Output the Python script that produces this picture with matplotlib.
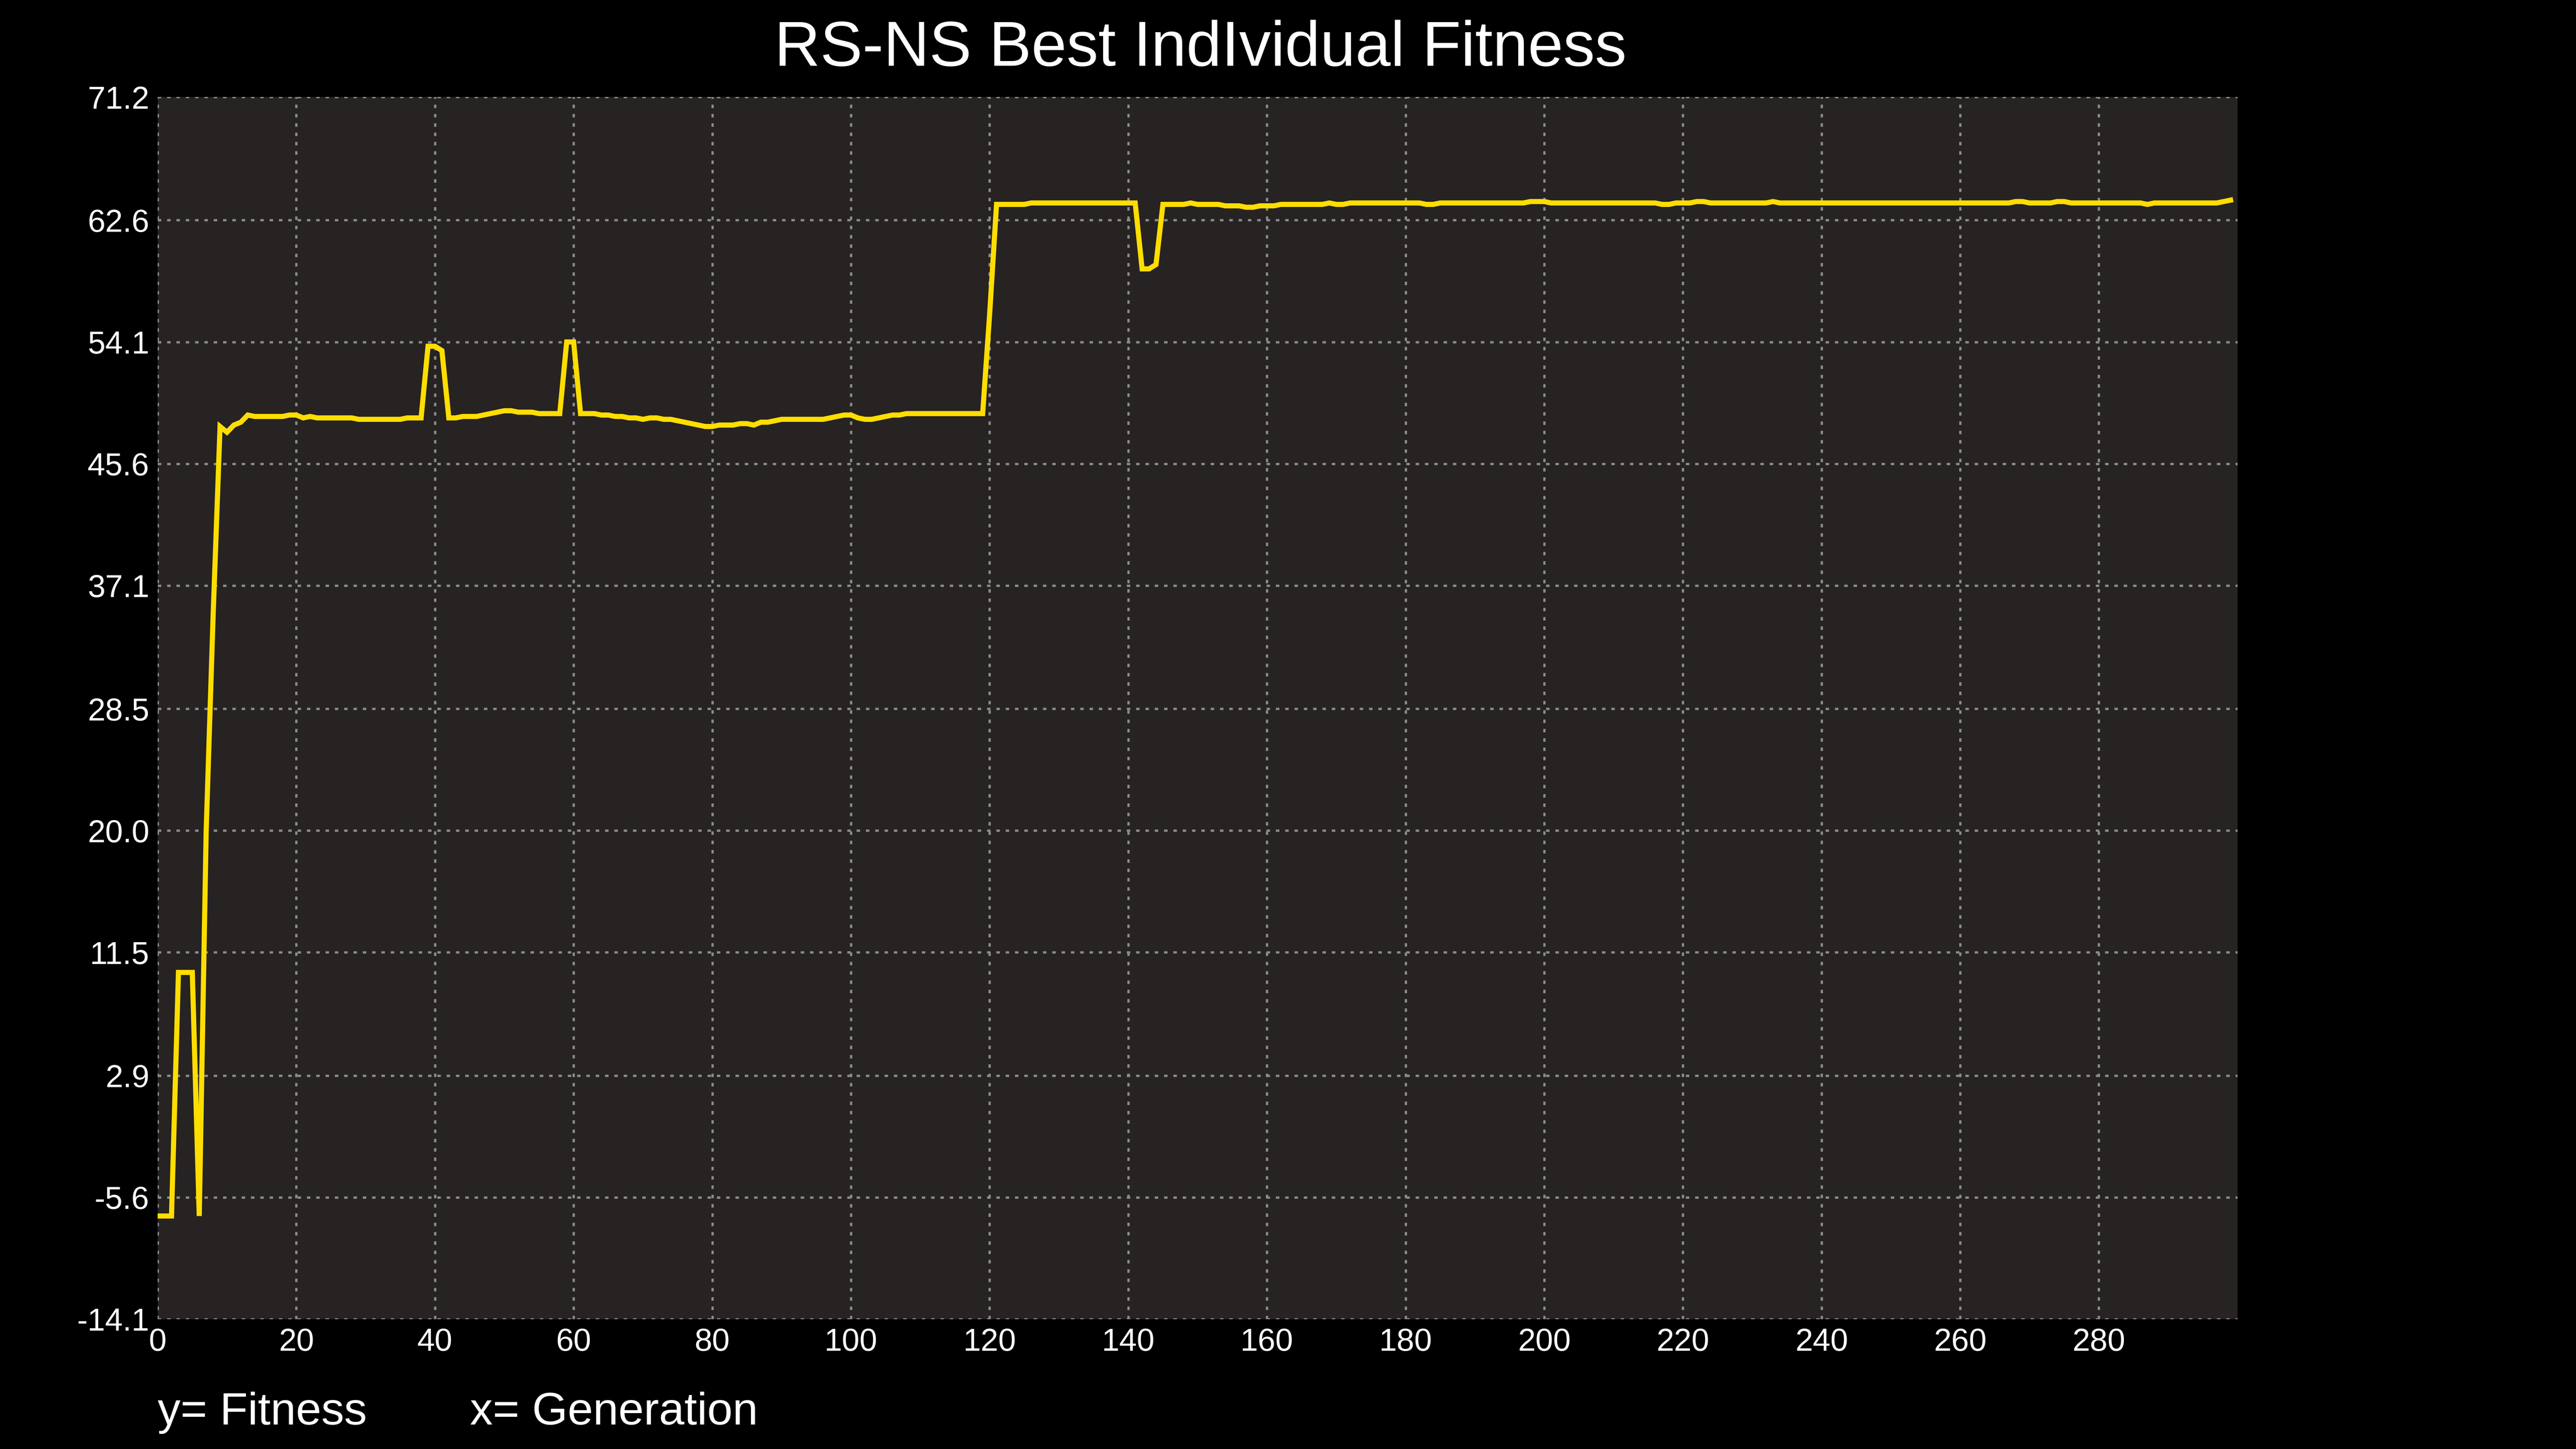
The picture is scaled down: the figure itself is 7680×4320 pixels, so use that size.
import matplotlib
matplotlib.use("Agg")
import matplotlib.pyplot as plt

title = "RS-NS Best IndIvidual Fitness"
y_ticks = [-14.1, -5.6, 2.9, 11.5, 20.0, 28.5, 37.1, 45.6, 54.1, 62.6, 71.2]
x_ticks = list(range(0, 300, 20))

fitness = [
    -6.9, -6.9, -6.9, 10.1, 10.1, 10.1, -6.9, 20.0, 35.0, 48.2,
    47.8, 48.3, 48.5, 49.0, 48.9, 48.9, 48.9, 48.9, 48.9, 49.0,
    49.0, 48.8, 48.9, 48.8, 48.8, 48.8, 48.8, 48.8, 48.8, 48.7,
    48.7, 48.7, 48.7, 48.7, 48.7, 48.7, 48.8, 48.8, 48.8, 53.8,
    53.8, 53.5, 48.8, 48.8, 48.9, 48.9, 48.9, 49.0, 49.1, 49.2,
    49.3, 49.3, 49.2, 49.2, 49.2, 49.1, 49.1, 49.1, 49.1, 54.1,
    54.1, 49.1, 49.1, 49.1, 49.0, 49.0, 48.9, 48.9, 48.8, 48.8,
    48.7, 48.8, 48.8, 48.7, 48.7, 48.6, 48.5, 48.4, 48.3, 48.2,
    48.2, 48.3, 48.3, 48.3, 48.4, 48.4, 48.3, 48.5, 48.5, 48.6,
    48.7, 48.7, 48.7, 48.7, 48.7, 48.7, 48.7, 48.8, 48.9, 49.0,
    49.0, 48.8, 48.7, 48.7, 48.8, 48.9, 49.0, 49.0, 49.1, 49.1,
    49.1, 49.1, 49.1, 49.1, 49.1, 49.1, 49.1, 49.1, 49.1, 49.1,
    56.0, 63.7, 63.7, 63.7, 63.7, 63.7, 63.8, 63.8, 63.8, 63.8,
    63.8, 63.8, 63.8, 63.8, 63.8, 63.8, 63.8, 63.8, 63.8, 63.8,
    63.8, 63.8, 59.2, 59.2, 59.5, 63.7, 63.7, 63.7, 63.7, 63.8,
    63.7, 63.7, 63.7, 63.7, 63.6, 63.6, 63.6, 63.5, 63.5, 63.6,
    63.6, 63.6, 63.7, 63.7, 63.7, 63.7, 63.7, 63.7, 63.7, 63.8,
    63.7, 63.7, 63.8, 63.8, 63.8, 63.8, 63.8, 63.8, 63.8, 63.8,
    63.8, 63.8, 63.8, 63.7, 63.7, 63.8, 63.8, 63.8, 63.8, 63.8,
    63.8, 63.8, 63.8, 63.8, 63.8, 63.8, 63.8, 63.8, 63.9, 63.9,
    63.9, 63.8, 63.8, 63.8, 63.8, 63.8, 63.8, 63.8, 63.8, 63.8,
    63.8, 63.8, 63.8, 63.8, 63.8, 63.8, 63.8, 63.7, 63.7, 63.8,
    63.8, 63.8, 63.9, 63.9, 63.8, 63.8, 63.8, 63.8, 63.8, 63.8,
    63.8, 63.8, 63.8, 63.9, 63.8, 63.8, 63.8, 63.8, 63.8, 63.8,
    63.8, 63.8, 63.8, 63.8, 63.8, 63.8, 63.8, 63.8, 63.8, 63.8,
    63.8, 63.8, 63.8, 63.8, 63.8, 63.8, 63.8, 63.8, 63.8, 63.8,
    63.8, 63.8, 63.8, 63.8, 63.8, 63.8, 63.8, 63.8, 63.9, 63.9,
    63.8, 63.8, 63.8, 63.8, 63.9, 63.9, 63.8, 63.8, 63.8, 63.8,
    63.8, 63.8, 63.8, 63.8, 63.8, 63.8, 63.8, 63.7, 63.8, 63.8,
    63.8, 63.8, 63.8, 63.8, 63.8, 63.8, 63.8, 63.8, 63.9, 64.0,
]
generations = list(range(len(fitness)))

plt.rcParams['font.family'] = ['Liberation Sans', 'DejaVu Sans']
fig = plt.figure(figsize=(76.8, 43.2), dpi=100, facecolor='black')
ax = fig.add_axes([0.0612, 0.0896, 0.8074, 0.8435])
ax.set_facecolor('#262322')
ax.plot(generations, fitness, color='#ffdd00', linewidth=11, solid_joinstyle='miter')
ax.set_xlim(0, 300)
ax.set_ylim(-14.1, 71.2)
ax.set_xticks(x_ticks)
ax.set_yticks(y_ticks)
ax.set_yticklabels([f"{v:.1f}" for v in y_ticks])
ax.tick_params(colors='white', labelsize=68, length=0, pad=18)
ax.grid(True, color='#8a8a8a', linestyle=(0, (1.5, 2.5)), linewidth=5)
for s in ax.spines.values():
    s.set_visible(False)
fig.text(0.466, 0.966, title, color='white', fontsize=136, ha='center', va='center')
fig.text(0.0612, 0.025, "y= Fitness", color='white', fontsize=98, ha='left', va='center')
fig.text(0.1824, 0.025, "x= Generation", color='white', fontsize=98, ha='left', va='center')
fig.savefig("out.png", dpi=100, facecolor='black')
